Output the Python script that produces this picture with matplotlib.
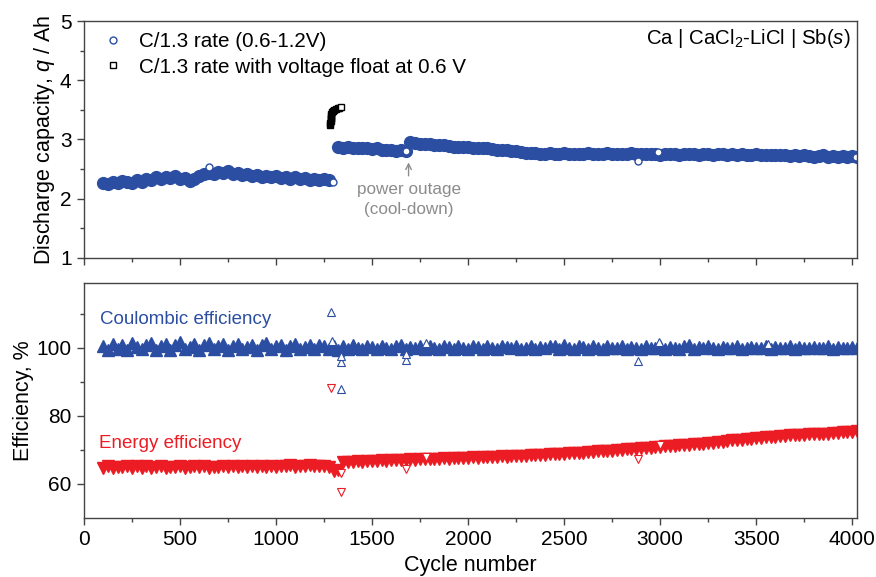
import numpy as np
import matplotlib
matplotlib.use('Agg')
import matplotlib.pyplot as plt
from matplotlib.lines import Line2D

plt.rcParams['font.family'] = ['Liberation Sans', 'DejaVu Sans']
plt.rcParams['mathtext.fontset'] = 'custom'
plt.rcParams['mathtext.rm'] = 'Liberation Sans'
plt.rcParams['mathtext.it'] = 'Liberation Sans:italic'

blue = '#2B4EA2'
red = '#EC1C24'
grey = '#8C8C8C'
spine = '#444444'

# discharge capacity (Ah), sampled every 25 cycles
cap_a_start = 100
cap_a = [2.27, 2.25, 2.29, 2.26, 2.30, 2.28, 2.27, 2.32, 2.29, 2.34,
         2.31, 2.36, 2.34, 2.37, 2.35, 2.38, 2.34, 2.35, 2.30, 2.34,
         2.39, 2.41, 2.44, 2.42, 2.45, 2.43, 2.46, 2.42, 2.44, 2.40,
         2.41, 2.38, 2.40, 2.37, 2.39, 2.36, 2.38, 2.35, 2.37, 2.34,
         2.36, 2.33, 2.35, 2.32, 2.34, 2.32, 2.33, 2.31]
cap_b_start = 1325
cap_b = [2.88, 2.86, 2.87, 2.85, 2.86, 2.85, 2.86, 2.84, 2.85, 2.83,
         2.83, 2.82, 2.81, 2.82, 2.80]
cap_c_start = 1700
cap_c = [2.96, 2.94, 2.93, 2.92, 2.92, 2.91, 2.90, 2.90, 2.89, 2.88,
         2.88, 2.87, 2.87, 2.86, 2.86, 2.85, 2.85, 2.84, 2.83, 2.83,
         2.82, 2.81, 2.80, 2.79, 2.78, 2.77, 2.77, 2.76, 2.76, 2.77,
         2.75, 2.76, 2.77, 2.75, 2.76, 2.76, 2.75, 2.77, 2.76, 2.75,
         2.76, 2.77, 2.75, 2.76, 2.76, 2.75, 2.77, 2.76, 2.75, 2.76,
         2.75, 2.76, 2.74, 2.75, 2.76, 2.75, 2.74, 2.76, 2.75, 2.75,
         2.74, 2.76, 2.75, 2.74, 2.75, 2.76, 2.74, 2.75, 2.74, 2.75,
         2.74, 2.73, 2.75, 2.74, 2.73, 2.74, 2.73, 2.74, 2.73, 2.72,
         2.73, 2.72, 2.73, 2.72, 2.71, 2.72, 2.73, 2.71, 2.72, 2.71,
         2.72, 2.71, 2.72, 2.71]
cap_out_cycle = [652, 1295, 1676, 2886, 2990, 4022]
cap_out = [2.53, 2.29, 2.80, 2.64, 2.79, 2.70]

# voltage-float run
float_cycle = [1282, 1283, 1284, 1285, 1286, 1287, 1288, 1290, 1295, 1300, 1310, 1320, 1330, 1336]
float_cap = [3.25, 3.28, 3.31, 3.34, 3.37, 3.40, 3.43, 3.46, 3.48, 3.50, 3.52, 3.53, 3.53, 3.54]

# efficiencies (%), sampled every 25 cycles from cycle 100
eff_start = 100
ce = [100.5, 99.4, 101.0, 99.7, 100.8, 99.3, 101.3, 100.1, 99.5, 100.9,
      101.5, 99.3, 100.4, 101.2, 99.4, 100.7, 101.6, 99.6, 100.2, 101.0,
      99.3, 100.8, 101.4, 99.5, 100.4, 101.1, 99.3, 100.6, 101.2, 99.6,
      100.2, 100.9, 99.4, 100.7, 101.3, 99.5, 100.4, 100.8, 99.4, 100.6,
      101.1, 99.7, 100.3, 100.9, 99.5, 100.7, 100.4, 99.6,
      100.6, 99.3, 100.4, 99.6, 100.7, 100.0, 99.5, 100.5, 100.2, 99.6,
      100.6, 100.0, 99.5, 100.4, 100.7, 99.6, 100.2, 99.8, 100.5, 99.5,
      100.4, 100.0, 99.6, 100.5, 100.2, 99.5, 100.4, 100.0, 99.6, 100.5,
      100.2, 99.6, 100.4, 100.0, 99.5, 100.5, 100.2, 99.8, 100.4, 99.6,
      100.0, 100.5, 99.6, 100.2, 99.8, 100.4, 100.6, 99.6, 100.8, 100.0,
      99.6, 100.4, 100.2, 99.5, 100.5, 100.0, 99.6, 100.4, 100.0, 99.8,
      100.4, 99.6, 100.2, 100.0, 99.5, 100.5, 100.0, 99.8, 100.4, 99.6,
      100.2, 100.0, 99.6, 100.4, 100.7, 99.5, 100.2, 99.8, 100.4, 100.0,
      99.6, 100.2, 100.0, 99.8, 100.4, 99.6, 100.0, 100.2, 99.8, 100.0,
      100.4, 99.6, 100.2, 99.8, 100.0, 100.4, 99.6, 100.2, 99.8, 100.0,
      100.2, 99.8, 100.0, 100.4, 99.6, 100.2, 99.8, 100.0, 100.2, 100.0]
ee = [64.8, 65.3, 64.6, 65.1, 64.9, 65.4, 64.7, 65.2, 64.8, 65.3,
      64.6, 65.0, 65.2, 64.7, 65.1, 64.9, 65.3, 64.8, 65.0, 65.2,
      64.9, 65.3, 64.8, 65.1, 65.0, 65.3, 64.9, 65.2, 65.0, 65.4,
      65.1, 65.3, 65.0, 65.4, 65.1, 65.3, 65.0, 65.4, 65.2, 65.5,
      65.1, 65.4, 65.2, 65.5, 65.2, 65.4, 65.3, 65.0,
      63.9, 64.2,
      66.3, 66.5, 66.4, 66.6, 66.5, 66.7, 66.8, 66.7, 66.9, 66.8,
      67.0, 66.9, 67.1, 67.0, 67.2, 67.1, 67.3, 67.2, 67.4, 67.3,
      67.4, 67.5, 67.4, 67.6, 67.5, 67.7, 67.6, 67.8, 67.7, 67.9,
      67.8, 68.0, 67.9, 68.1, 68.0, 68.2, 68.2, 68.3, 68.3, 68.5,
      68.4, 68.6, 68.5, 68.7, 68.7, 68.9, 68.8, 69.0, 69.0, 69.2,
      69.2, 69.4, 69.4, 69.6, 69.6, 69.8, 69.8, 70.0, 70.0, 70.2,
      70.2, 70.3, 70.4, 70.5, 70.6, 70.7, 70.8, 71.0, 71.0, 71.2,
      71.3, 71.4, 71.5, 71.6, 71.7, 71.8, 72.0, 72.0, 72.2, 72.3,
      72.6, 72.8, 72.9, 73.0, 73.2, 73.3, 73.5, 73.6, 73.7, 73.8,
      73.9, 74.0, 74.2, 74.3, 74.4, 74.4, 74.5, 74.6, 74.7, 74.7,
      74.7, 74.8, 74.9, 75.0, 75.1, 75.1, 75.3, 75.4]
ce_out_cycle = [1288, 1290, 1338, 1338, 1338, 1676, 1676, 1780, 2886, 2995, 3560]
ce_out = [110.5, 102.0, 88.0, 95.8, 97.5, 96.4, 98.0, 101.5, 96.0, 101.8, 101.2]
ee_out_cycle = [1287, 1338, 1338, 1676, 1780, 2886, 3000]
ee_out = [88.3, 57.6, 63.2, 64.3, 67.8, 67.3, 71.5]


def cycles(start, vals):
    return start + 25 * np.arange(len(vals))


fig = plt.figure(figsize=(8.76, 5.77), dpi=100)
ax1 = fig.add_axes([0.0959, 0.5529, 0.8824, 0.4107])
ax2 = fig.add_axes([0.0959, 0.1023, 0.8824, 0.4073])

# top panel: capacity
for start, vals in [(cap_a_start, cap_a), (cap_b_start, cap_b), (cap_c_start, cap_c)]:
    ax1.plot(cycles(start, vals), vals, 'o', ms=8.5, mfc=blue, mec=blue, mew=1, ls='none')
ax1.plot(cap_out_cycle, cap_out, 'o', ms=5, mfc='white', mec=blue, mew=1, ls='none')
ax1.plot(float_cycle[:-1], float_cap[:-1], 's', ms=5, mfc='black', mec='black', mew=1, ls='none')
ax1.plot(float_cycle[-1:], float_cap[-1:], 's', ms=5, mfc='white', mec='black', mew=1, ls='none')

handles = [Line2D([], [], marker='o', ls='none', ms=5, mfc='white', mec=blue),
           Line2D([], [], marker='s', ls='none', ms=5, mfc='white', mec='black')]
ax1.legend(handles, ['C/1.3 rate (0.6-1.2V)', 'C/1.3 rate with voltage float at 0.6 V'],
           loc='upper left', bbox_to_anchor=(0.01, 1.0), frameon=False, fontsize=14.9,
           handlelength=1.0, handletextpad=0.75, labelspacing=0.3, borderaxespad=0.15)
ax1.text(0.991, 0.925, 'Ca | CaCl$_2$-LiCl | Sb($s$)', transform=ax1.transAxes,
         ha='right', va='center', fontsize=14.7)
ax1.annotate('', xy=(1690, 2.66), xytext=(1690, 2.34),
             arrowprops=dict(arrowstyle='->', color=grey, lw=1))
ax1.text(1690, 1.99, 'power outage\n(cool-down)', ha='center', va='center',
         fontsize=12.3, color=grey, linespacing=1.45)

ax1.set_ylim(1, 5)
ax1.set_yticks([1, 2, 3, 4, 5])
ax1.set_yticks(np.arange(1.5, 5, 1), minor=True)
ax1.set_ylabel('Discharge capacity, $q$ / Ah', fontsize=15.5, labelpad=2)
ax1.tick_params(labelbottom=False)

# bottom panel: efficiencies
ax2.plot(cycles(eff_start, ce), ce, '^', ms=9, mfc=blue, mec=blue, mew=1, ls='none')
ax2.plot(cycles(eff_start, ee), ee, 'v', ms=8.5, mfc=red, mec=red, mew=1, ls='none')
ax2.plot(ce_out_cycle, ce_out, '^', ms=6, mfc='white', mec=blue, mew=0.8, ls='none')
ax2.plot(ee_out_cycle, ee_out, 'v', ms=6, mfc='white', mec=red, mew=0.8, ls='none')
ax2.text(0.021, 0.843, 'Coulombic efficiency', transform=ax2.transAxes,
         ha='left', va='center', fontsize=13.5, color=blue)
ax2.text(0.019, 0.319, 'Energy efficiency', transform=ax2.transAxes,
         ha='left', va='center', fontsize=13.5, color=red)

ax2.set_ylim(50, 119)
ax2.set_yticks([60, 80, 100])
ax2.set_yticks([70, 90, 110], minor=True)
ax2.set_ylabel('Efficiency, %', fontsize=15.5, labelpad=1.5)
ax2.set_xlabel('Cycle number', fontsize=15.5, labelpad=4)

for ax in (ax1, ax2):
    ax.set_xlim(0, 4025)
    ax.set_xticks(np.arange(0, 4001, 500))
    ax.set_xticks(np.arange(250, 4001, 500), minor=True)
    for s in ax.spines.values():
        s.set_color(spine)
        s.set_linewidth(1)
    ax.tick_params(which='major', direction='out', length=5, width=1, color=spine,
                   labelsize=15, pad=4, top=False, right=False)
    ax.tick_params(which='minor', direction='out', length=3, width=1, color=spine,
                   top=False, right=False)

fig.savefig('out.png', dpi=100)
